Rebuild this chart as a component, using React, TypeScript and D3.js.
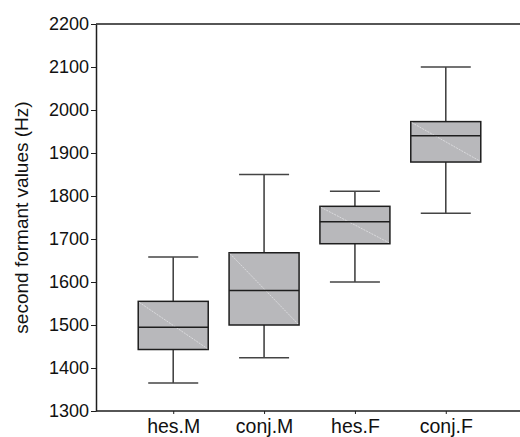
import React, { useEffect, useRef } from "react";
import * as d3 from "d3";

// box plot values (Hz)
const groups = ["hes.M", "conj.M", "hes.F", "conj.F"];
const whiskerLow = [1365, 1424, 1600, 1760];
const q1 = [1443, 1500, 1689, 1879];
const medians = [1495, 1580, 1740, 1940];
const q3 = [1555, 1668, 1776, 1973];
const whiskerHigh = [1658, 1850, 1811, 2100];
const yTicks = [1300, 1400, 1500, 1600, 1700, 1800, 1900, 2000, 2100, 2200];

const W = 520;
const H = 437;
const margin = { top: 24, right: 0, bottom: 26, left: 96 };
const FONT = "'Liberation Sans', Arial, Helvetica, sans-serif";

export default function App() {
  const svgRef = useRef<SVGSVGElement>(null);

  useEffect(() => {
    const svg = d3.select(svgRef.current);
    svg.selectAll("*").remove();

    const bottom = H - margin.bottom;
    const y = d3.scaleLinear().domain([1300, 2200]).range([bottom, margin.top]);
    const x = d3
      .scalePoint<string>()
      .domain(groups)
      .range([margin.left, W + 3])
      .padding(0.85);

    const boxW = 70;
    const capW = 50;
    const dark = "#1e1e1e";

    // frame: top line (no right side)
    svg
      .append("line")
      .attr("x1", margin.left)
      .attr("x2", W)
      .attr("y1", margin.top)
      .attr("y2", margin.top)
      .attr("stroke", dark)
      .attr("stroke-width", 1.5);

    // y axis
    const yAxis = svg
      .append("g")
      .attr("transform", `translate(${margin.left},0)`)
      .call(
        d3
          .axisLeft(y)
          .tickValues(yTicks)
          .tickFormat(d3.format("d"))
          .tickSize(5)
          .tickSizeOuter(0)
          .tickPadding(2)
      );
    yAxis.select(".domain").attr("stroke", dark).attr("stroke-width", 1.5);
    yAxis.selectAll(".tick line").attr("stroke", dark).attr("stroke-width", 1);
    yAxis
      .selectAll(".tick text")
      .attr("fill", "#111")
      .style("font-family", FONT)
      .style("font-size", "18px");

    // x axis
    const xAxis = svg
      .append("g")
      .attr("transform", `translate(0,${bottom})`)
      .call(d3.axisBottom(x).tickSize(3).tickSizeOuter(0).tickPadding(5));
    xAxis
      .select(".domain")
      .attr("d", `M${margin.left},0H${W}`)
      .attr("stroke", dark)
      .attr("stroke-width", 1.5);
    xAxis.selectAll(".tick line").attr("stroke", dark);
    xAxis
      .selectAll(".tick text")
      .attr("fill", "#111")
      .style("font-family", FONT)
      .style("font-size", "19.5px");

    // axis title
    svg
      .append("text")
      .attr("transform", `translate(${21},${(margin.top + bottom) / 2}) rotate(-90)`)
      .attr("text-anchor", "middle")
      .attr("dy", "0.35em")
      .attr("fill", "#111")
      .style("font-family", FONT)
      .style("font-size", "19px")
      .text("second formant values (Hz)");

    const data = groups.map((g, i) => ({
      g,
      lo: whiskerLow[i],
      q1: q1[i],
      med: medians[i],
      q3: q3[i],
      hi: whiskerHigh[i],
    }));

    const boxes = svg
      .selectAll(".box")
      .data(data)
      .enter()
      .append("g")
      .attr("class", "box")
      .attr("transform", (d) => `translate(${x(d.g)},0)`);

    // whiskers
    boxes
      .append("line")
      .attr("x1", 0)
      .attr("x2", 0)
      .attr("y1", (d) => y(d.hi))
      .attr("y2", (d) => y(d.q3))
      .attr("stroke", "#444")
      .attr("stroke-width", 1.6);
    boxes
      .append("line")
      .attr("x1", 0)
      .attr("x2", 0)
      .attr("y1", (d) => y(d.q1))
      .attr("y2", (d) => y(d.lo))
      .attr("stroke", "#444")
      .attr("stroke-width", 1.6);
    // caps
    boxes
      .append("line")
      .attr("x1", -capW / 2)
      .attr("x2", capW / 2)
      .attr("y1", (d) => y(d.hi))
      .attr("y2", (d) => y(d.hi))
      .attr("stroke", "#444")
      .attr("stroke-width", 1.6);
    boxes
      .append("line")
      .attr("x1", -capW / 2)
      .attr("x2", capW / 2)
      .attr("y1", (d) => y(d.lo))
      .attr("y2", (d) => y(d.lo))
      .attr("stroke", "#444")
      .attr("stroke-width", 1.6);

    // box body
    boxes
      .append("rect")
      .attr("x", -boxW / 2)
      .attr("width", boxW)
      .attr("y", (d) => y(d.q3))
      .attr("height", (d) => y(d.q1) - y(d.q3))
      .attr("fill", "#b8b8bb")
      .attr("stroke", dark)
      .attr("stroke-width", 1.5);

    // faint diagonal inside the box
    boxes
      .append("line")
      .attr("x1", -boxW / 2 + 1)
      .attr("x2", boxW / 2 - 1)
      .attr("y1", (d) => y(d.q3) + 1)
      .attr("y2", (d) => y(d.q1) - 1)
      .attr("stroke", "#e2e2e4")
      .attr("stroke-width", 0.8)
      .attr("stroke-dasharray", "2,1");

    // median
    boxes
      .append("line")
      .attr("x1", -boxW / 2)
      .attr("x2", boxW / 2)
      .attr("y1", (d) => y(d.med))
      .attr("y2", (d) => y(d.med))
      .attr("stroke", dark)
      .attr("stroke-width", 1.5);
  }, []);

  return (
    <div style={{ position: "absolute", left: 0, top: 0 }}>
      <svg ref={svgRef} width={W} height={H} style={{ display: "block", background: "#fff" }} />
    </div>
  );
}
